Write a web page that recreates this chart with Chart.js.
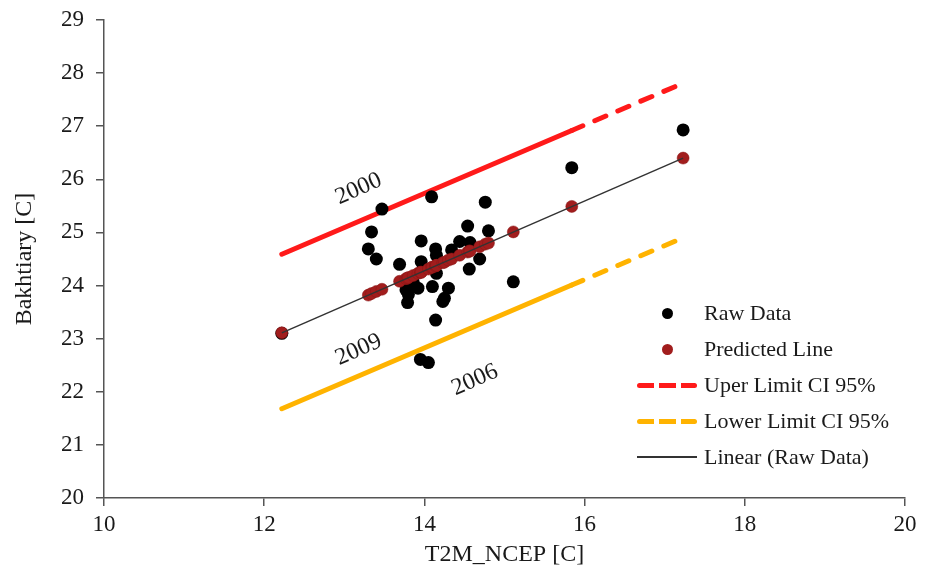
<!DOCTYPE html>
<html>
<head>
<meta charset="utf-8">
<title>Bakhtiary vs T2M_NCEP</title>
<script src="https://cdn.jsdelivr.net/npm/chart.js"></script>
<style>
  body { margin: 0; background: #fff; }
  #wrap { position: relative; width: 933px; height: 578px; }
  #legend { position: absolute; left: 637px; top: 295px; font-family: "Liberation Serif", serif; font-size: 22px; color: #1a1a1a; }
  .row { display: flex; align-items: center; height: 36px; }
  .sym { width: 60px; height: 12px; display: flex; justify-content: center; align-items: center; margin-right: 7px; }
  .dot { width: 11px; height: 11px; border-radius: 50%; }
  .dash { width: 60px; height: 5px; border-radius: 3px; }
  .solid { width: 60px; height: 1.5px; background: #333; }
</style>
</head>
<body>
<div id="wrap">
  <canvas id="myChart" width="933" height="578"></canvas>
  <div id="legend">
    <div class="row"><span class="sym"><span class="dot" style="background:#000"></span></span>Raw Data</div>
    <div class="row"><span class="sym"><span class="dot" style="background:#a11d1d"></span></span>Predicted Line</div>
    <div class="row"><span class="sym"><span class="dash" style="background:repeating-linear-gradient(to right,#ff1a1a 0 17px,transparent 17px 22px)"></span></span>Uper Limit CI 95%</div>
    <div class="row"><span class="sym"><span class="dash" style="background:repeating-linear-gradient(to right,#ffb300 0 17px,transparent 17px 22px)"></span></span>Lower Limit CI 95%</div>
    <div class="row"><span class="sym"><span class="solid"></span></span>Linear (Raw Data)</div>
  </div>
</div>
<script>
  // T2M_NCEP values, shared by raw and predicted series
  const T2M = [12.22, 13.30, 13.34, 13.40, 13.47, 13.69, 13.77, 13.79, 13.80, 13.86,
               13.92, 13.95, 13.96, 13.96, 14.05, 14.09, 14.10, 14.14, 14.14, 14.15,
               14.15, 14.23, 14.25, 14.30, 14.34, 14.44, 14.54, 14.56, 14.57, 14.69,
               14.76, 14.80, 15.11, 15.84, 17.23];
  const rawData = [23.10, 24.69, 25.01, 24.50, 25.44, 24.40, 23.92, 23.68, 23.83, 24.07,
                   23.95, 22.61, 24.84, 24.45, 22.55, 25.67, 23.98, 23.35, 24.69, 24.57,
                   24.23, 23.70, 23.76, 23.95, 24.67, 24.83, 25.12, 24.31, 24.81, 24.50,
                   25.57, 25.03, 24.07, 26.22, 26.93];
  const predicted = [23.11, 23.82, 23.85, 23.89, 23.93, 24.08, 24.13, 24.14, 24.15, 24.19,
                     24.23, 24.25, 24.25, 24.25, 24.31, 24.34, 24.35, 24.37, 24.37, 24.38,
                     24.38, 24.43, 24.44, 24.48, 24.50, 24.57, 24.63, 24.65, 24.65, 24.73,
                     24.78, 24.80, 25.01, 25.49, 26.40];

  // confidence limits
  const ciX = [12.22, 15.84, 17.23];
  const upperCI = [24.59, 26.92, 27.81];
  const lowerCI = [21.68, 24.01, 24.90];
  const dashFrom = 15.84;

  // linear trend of raw data
  const trendX = [12.22, 17.23];
  const trendY = [23.11, 26.40];

  // year labels
  const yearText = ['2000', '2009', '2006'];
  const yearX = [13.18, 13.18, 14.63];
  const yearY = [25.82, 22.79, 22.22];

  const xTicks = [10, 12, 14, 16, 18, 20];
  const yTicks = [20, 21, 22, 23, 24, 25, 26, 27, 28, 29];

  const pts = (xs, ys) => xs.map((x, i) => ({ x: x, y: ys[i] }));
  const serif = '"Liberation Serif", "Times New Roman", serif';

  const yearPlugin = {
    id: 'yearLabels',
    afterDatasetsDraw(chart) {
      const { ctx, scales: { x, y } } = chart;
      ctx.save();
      ctx.font = '24px ' + serif;
      ctx.fillStyle = '#1a1a1a';
      ctx.textAlign = 'center';
      ctx.textBaseline = 'middle';
      yearText.forEach((t, i) => {
        ctx.save();
        ctx.translate(x.getPixelForValue(yearX[i]), y.getPixelForValue(yearY[i]));
        ctx.rotate(-24 * Math.PI / 180);
        ctx.fillText(t, 0, 0);
        ctx.restore();
      });
      ctx.restore();
    }
  };

  const ciDash = ctx => ctx.p0.parsed.x >= dashFrom ? [12, 13] : [];

  const ctx = document.getElementById('myChart').getContext('2d');
  new Chart(ctx, {
    type: 'scatter',
    data: {
      datasets: [
        { label: 'Raw Data', data: pts(T2M, rawData), backgroundColor: '#000', borderColor: '#000',
          pointRadius: 6.5, pointBorderWidth: 0, order: 2 },
        { label: 'Predicted Line', data: pts(T2M, predicted), backgroundColor: '#a11d1d', borderColor: '#8a1515',
          pointRadius: 6, pointBorderWidth: 0.5, order: 1 },
        { label: 'Uper Limit CI 95%', data: pts(ciX, upperCI), showLine: true, borderColor: '#ff1a1a',
          borderWidth: 5, borderCapStyle: 'round', pointRadius: 0, segment: { borderDash: ciDash }, order: 3 },
        { label: 'Lower Limit CI 95%', data: pts(ciX, lowerCI), showLine: true, borderColor: '#ffb300',
          borderWidth: 5, borderCapStyle: 'round', pointRadius: 0, segment: { borderDash: ciDash }, order: 3 },
        { label: 'Linear (Raw Data)', data: pts(trendX, trendY), showLine: true, borderColor: '#333',
          borderWidth: 1.5, pointRadius: 0, order: 0 }
      ]
    },
    options: {
      responsive: false,
      animation: false,
      layout: { padding: { left: 0, right: 28, top: 20, bottom: 0 } },
      scales: {
        x: {
          type: 'linear', min: 10, max: 20,
          afterBuildTicks: s => { s.ticks = xTicks.map(v => ({ value: v })); },
          afterFit: s => { s.height = 80; },
          ticks: { color: '#1a1a1a', padding: 5, font: { family: serif, size: 23 } },
          grid: { drawOnChartArea: false, color: '#555', lineWidth: 1.5, tickLength: 8 },
          border: { color: '#555', width: 1.5 },
          title: { display: true, text: 'T2M_NCEP [C]', color: '#1a1a1a', padding: { top: 0, bottom: 9 },
                   font: { family: serif, size: 24 } }
        },
        y: {
          min: 20, max: 29,
          afterBuildTicks: s => { s.ticks = yTicks.map(v => ({ value: v })); },
          afterFit: s => { s.width = 104; s.paddingTop = 0; s.paddingBottom = 0; },
          ticks: { color: '#1a1a1a', padding: 12, font: { family: serif, size: 23 } },
          grid: { drawOnChartArea: false, color: '#555', lineWidth: 1.5, tickLength: 8 },
          border: { color: '#555', width: 1.5 },
          title: { display: true, text: 'Bakhtiary [C]', color: '#1a1a1a', padding: { top: 10, bottom: 0 },
                   font: { family: serif, size: 24 } }
        }
      },
      plugins: { legend: { display: false }, tooltip: { enabled: false } }
    },
    plugins: [yearPlugin]
  });
</script>
</body>
</html>
